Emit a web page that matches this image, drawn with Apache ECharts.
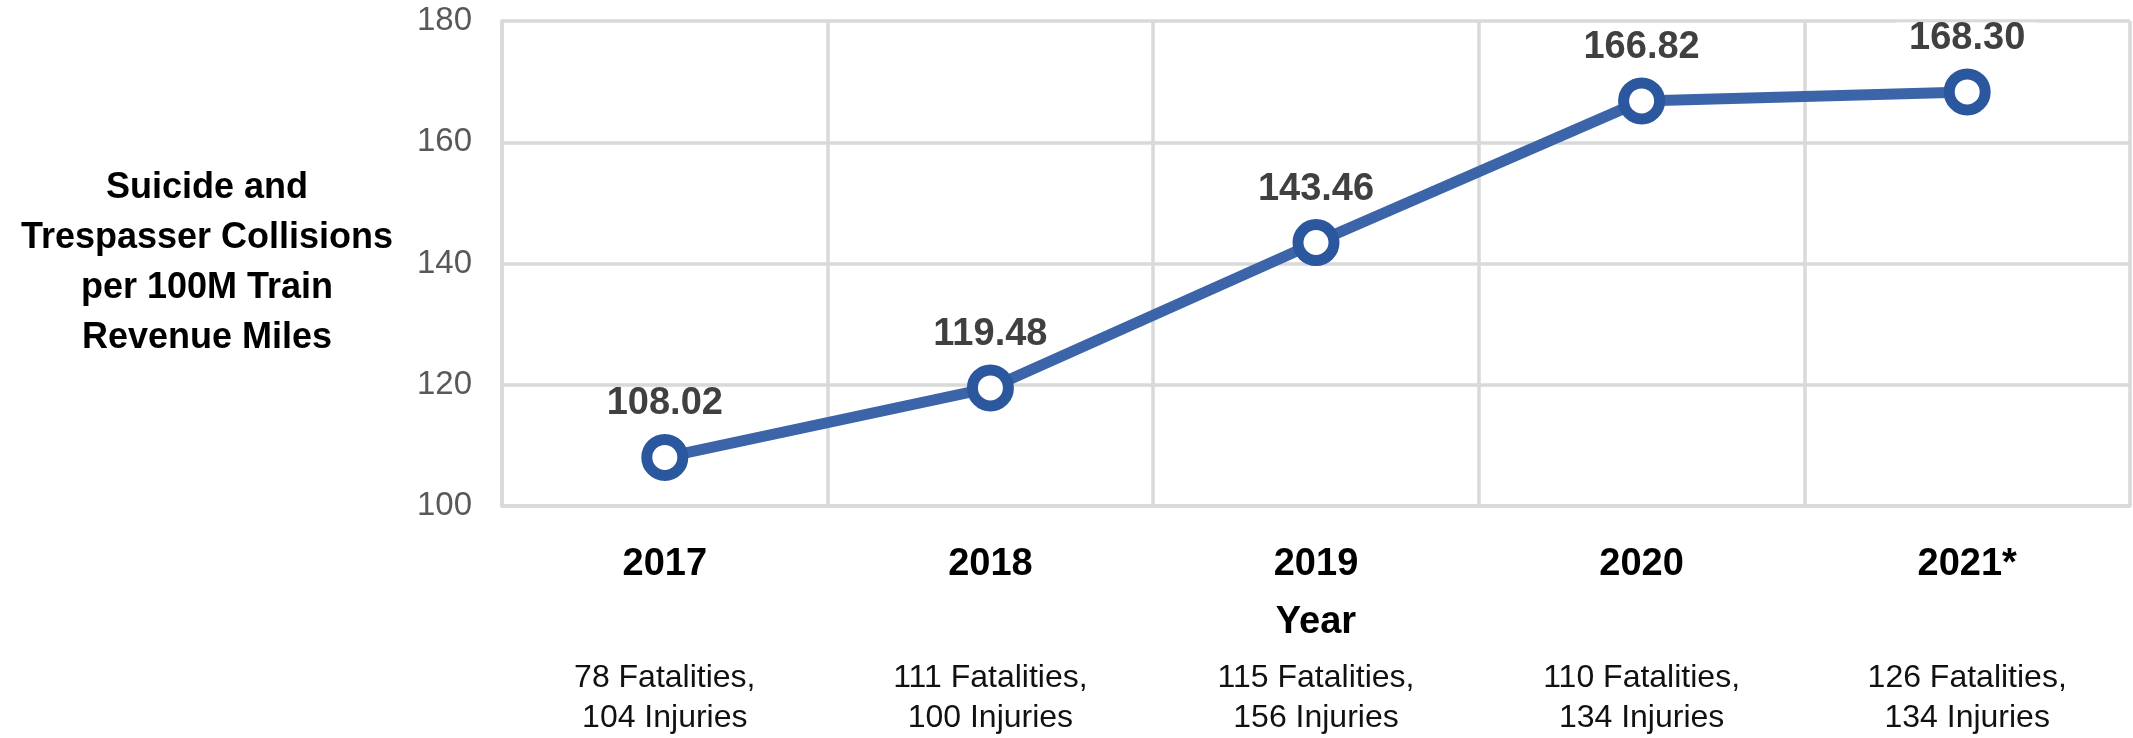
<!DOCTYPE html>
<html>
<head>
<meta charset="utf-8">
<script src="https://cdn.jsdelivr.net/npm/echarts@6/dist/echarts.min.js"></script>
<style>
  html, body { margin: 0; padding: 0; background: #fff; }
  #chart { width: 2133px; height: 738px; }
</style>
</head>
<body>
<div id="chart"></div>
<script>
// data
var years = ['2017', '2018', '2019', '2020', '2021*'];
var rates = [108.02, 119.48, 143.46, 166.82, 168.30];
var fatalities = [78, 111, 115, 110, 126];
var injuries = [104, 100, 156, 134, 134];
var yTicks = [100, 120, 140, 160, 180];

var gridGray = '#d9d9d9';
var font = '"Liberation Sans", Arial, sans-serif';

var myChart = echarts.init(document.getElementById('chart'));

var option = {
  backgroundColor: '#fff',
  animation: false,
  grid: { left: 502, right: 3, top: 21, bottom: 227, containLabel: false },
  xAxis: [
    {
      type: 'category',
      data: years,
      boundaryGap: true,
      name: 'Year',
      nameLocation: 'middle',
      nameGap: 98,
      nameTextStyle: { fontFamily: font, fontSize: 38, fontWeight: 'bold', color: '#000' },
      axisLine: { show: true, lineStyle: { color: gridGray, width: 3.5 } },
      axisTick: { show: false },
      splitLine: { show: true, lineStyle: { color: gridGray, width: 3.5 } },
      axisLabel: { margin: 40, fontFamily: font, fontSize: 38, fontWeight: 'bold', color: '#000' }
    },
    {
      // fatalities / injuries row under the years
      type: 'category',
      data: years,
      position: 'bottom',
      boundaryGap: true,
      axisLine: { show: false },
      axisTick: { show: false },
      splitLine: { show: false },
      axisLabel: {
        margin: 152,
        fontFamily: font,
        fontSize: 32,
        lineHeight: 40,
        color: '#111',
        formatter: function (v, i) {
          return fatalities[i] + ' Fatalities,\n' + injuries[i] + ' Injuries';
        }
      }
    }
  ],
  yAxis: {
    type: 'value',
    min: yTicks[0],
    max: yTicks[yTicks.length - 1],
    interval: 20,
    name: 'Suicide and\nTrespasser Collisions\nper 100M Train\nRevenue Miles',
    nameLocation: 'middle',
    nameRotate: 0,
    nameGap: 295,
    nameTextStyle: {
      fontFamily: font, fontSize: 36, fontWeight: 'bold', color: '#000',
      lineHeight: 50, align: 'center', verticalAlign: 'middle'
    },
    axisLine: { show: true, lineStyle: { color: gridGray, width: 3.5 } },
    axisTick: { show: false },
    splitLine: { show: true, lineStyle: { color: gridGray, width: 3.5 } },
    axisLabel: { margin: 30, fontFamily: font, fontSize: 33, color: '#595959' }
  },
  series: [{
    type: 'line',
    data: rates,
    symbol: 'circle',
    symbolSize: 36,
    lineStyle: { color: '#3b65a8', width: 11 },
    itemStyle: { color: '#fff', borderColor: '#2b579e', borderWidth: 11 },
    label: {
      show: true,
      position: 'top',
      distance: 14,
      fontFamily: font,
      fontSize: 38,
      lineHeight: 32,
      fontWeight: 'bold',
      color: '#404040',
      backgroundColor: '#fff',
      padding: [0, 12],
      formatter: function (p) { return p.value.toFixed(2); }
    },
    z: 5
  }]
};

myChart.setOption(option);
</script>
</body>
</html>
